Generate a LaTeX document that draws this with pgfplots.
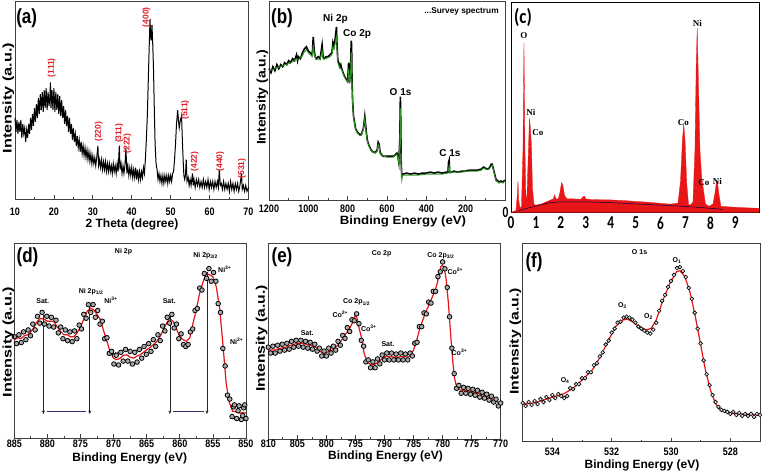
\documentclass[border=0pt]{standalone}
\usepackage{fontspec}
\setmainfont{Liberation Sans}
\newfontfamily\serifT{Liberation Serif}
\newfontfamily\calib{Carlito}
\usepackage{graphicx}
\usepackage{pgfplots}
\pgfplotsset{compat=1.18}
\usetikzlibrary{arrows.meta}
\definecolor{fitred}{RGB}{230,20,20}
\definecolor{xrdred}{RGB}{225,30,40}
\definecolor{sgreen}{RGB}{45,150,35}
\definecolor{edxred}{RGB}{232,22,22}
\definecolor{navyl}{RGB}{50,50,110}
\newcommand\tk[1]{\scalebox{1}[1.2]{#1}}
\newcommand\tc[1]{\scalebox{0.95}[1.3]{#1}}
\newcommand\ylab[1][1.3]{\scalebox{#1}[1]{\fontsize{12.5}{12.5}\selectfont\bfseries Intensity (a.u.)}}
\newcommand\xlab[2][1]{\scalebox{#1}[1]{\fontsize{12}{12}\selectfont\bfseries #2}}
\newcommand\plab[1]{\scalebox{1}[1.2]{\fontsize{17}{17}\selectfont\bfseries #1}}
\newcommand\sm{\fontsize{7}{7}\selectfont\bfseries}
\tikzset{hkl/.style={text=xrdred, rotate=90, font=\fontsize{8.5}{8.5}\selectfont\bfseries}}
\pgfplotsset{
  panel/.style={
    scale only axis, anchor=south west,
    ymin=0, ymax=100, ytick=\empty,
    axis line style={draw=black!75, line width=0.8pt},
    tick align=inside, xtick pos=left,
    major tick length=4pt, minor tick length=2pt,
    tick style={draw=black!75, line width=0.7pt},
    minor x tick num=1,
    xticklabel style={font=\fontsize{9}{9}\selectfont\bfseries},
    clip=false,
  },
  fitline/.style={draw=fitred, line width=1.2pt, no markers},
  pts/.style={only marks, mark=*, mark size=2.3pt, mark options={draw=black, fill=gray!65, line width=0.8pt}},
}
\begin{document}
\begin{tikzpicture}
\useasboundingbox (0pt,0pt) rectangle (763pt,474pt);

% ---------------- (a) XRD
\begin{axis}[panel, at={(15pt,274.7pt)}, width=233.5pt, height=198.3pt,
  xmin=10, xmax=70, xtick={10,20,30,40,50,60,70},
  xticklabels={\tk{10},\tk{20},\tk{30},\tk{40},\tk{50},\tk{60},\tk{70}},
  xticklabel style={yshift=-5pt}]
\addplot[black, line width=1pt] table {
10.00 41
10.25 34
10.50 40
10.75 33
11.00 39
11.25 34
11.50 40
11.75 31
12.00 38
12.25 33
12.50 36
12.75 29
13.00 35
13.25 31
13.50 38
13.75 33
14.00 41
14.25 35
14.50 43
14.75 37
15.00 46
15.25 39
15.50 48
15.75 41
16.00 51
16.25 43
16.50 53
16.75 45
17.00 54
17.25 44
17.50 55
17.75 46
18.00 56
18.25 45
18.50 54
18.75 47
19.00 53
19.10 59
19.25 46
19.50 55
19.75 45
20.00 56
20.25 44
20.50 54
20.75 45
21.00 53
21.25 43
21.50 52
21.75 42
22.00 50
22.25 41
22.50 47
22.75 38
23.00 45
23.25 37
23.50 42
23.75 34
24.00 41
24.25 33
24.50 38
24.75 30
25.00 36
25.25 29
25.50 33
25.75 27
26.00 32
26.25 26
26.50 30
26.75 24
27.00 29
27.25 23
27.50 27
27.75 22
28.00 26
28.25 21
28.50 25
28.75 20
29.00 24
29.25 19
29.50 23
29.75 18
30.00 22
30.25 18
30.50 21
30.75 17
31.00 21
31.30 27
31.50 17
31.75 20
32.00 16
32.25 20
32.50 15
32.75 19
33.00 15
33.25 19
33.50 14
33.75 18
34.00 14
34.25 18
34.50 14
34.75 17
35.00 13
35.25 18
35.50 14
35.75 17
36.00 13
36.25 18
36.50 14
36.80 27
37.00 15
37.25 18
37.50 13
37.75 17
38.00 13
38.25 17
38.50 26
38.75 13
39.00 17
39.25 12
39.50 16
39.75 12
40.00 16
40.25 11
40.50 15
40.75 11
41.00 16
41.25 10
41.50 15
41.75 10
42.00 14
42.25 10
42.50 14
42.75 11
43.00 16
43.25 13
43.50 20
43.75 30
44.00 42
44.25 60
44.50 78
44.70 91
44.85 82
45.00 80
45.20 88
45.40 78
45.60 65
45.80 45
46.00 28
46.25 18
46.50 15
46.75 10
47.00 13
47.25 9
47.50 12
47.75 8
48.00 12
48.25 8
48.50 12
48.75 9
49.00 12
49.25 8
49.50 12
49.75 9
50.00 12
50.25 9
50.50 13
50.75 14
51.00 20
51.25 28
51.50 38
51.80 45
52.00 40
52.20 36
52.50 40
52.80 42
53.00 30
53.20 20
53.40 12
53.60 10
53.80 12
54.00 20
54.20 9
54.50 11
54.75 7
55.00 10
55.25 7
55.60 13
55.80 7
56.00 10
56.30 6
56.60 10
56.90 7
57.20 10
57.50 6
57.80 9
58.10 6
58.40 10
58.70 6
59.00 9
59.30 6
59.60 10
59.90 5
60.20 9
60.50 6
60.80 9
61.10 5
61.40 9
61.70 6
62.00 9
62.25 6
62.50 15
62.75 7
63.00 8
63.30 5
63.60 9
63.90 5
64.20 8
64.50 5
64.80 8
65.10 4
65.40 9
65.70 5
66.00 8
66.30 4
66.60 8
66.90 5
67.20 8
67.50 4
67.80 7
68.20 13
68.40 5
68.70 7
69.00 4
69.30 7
69.60 4
70.00 6
};
\node[hkl] at (axis cs:19.4,66.4) {(111)};
\node[hkl] at (axis cs:31.5,34) {(220)};
\node[hkl] at (axis cs:36.8,33.3) {(311)};
\node[hkl] at (axis cs:38.9,28.2) {(222)};
\node[hkl] at (axis cs:43.8,91.8) {(400)};
\node[hkl] at (axis cs:53.7,45) {(511)};
\node[hkl] at (axis cs:56.2,19) {(422)};
\node[hkl] at (axis cs:62.7,19) {(440)};
\node[hkl] at (axis cs:68.3,15.6) {(531)};
\end{axis}

% ---------------- (b) XPS survey
\begin{axis}[panel, at={(269pt,274pt)}, width=236pt, height=199pt,
  xmin=0, xmax=1200, x dir=reverse, xtick={0,200,400,600,800,1000,1200},
  xticklabels={{},\tk{200},\tk{400},\tk{600},\tk{800},\tk{1000},\tk{1200}},
  xticklabel style={yshift=-1pt}]
\addplot[black, line width=1.6pt] table {
1200 66
1190 64
1180 67
1170 65
1160 68
1150 66
1140 68
1130 67
1120 69
1110 68
1100 70
1090 69
1080 71
1070 70
1060 73
1055 70
1050 72
1040 71
1030 74
1020 76
1010 77
1000 75
990 74
980 73
975 82
970 75
965 72
960 71
950 72
940 71
930 78
925 72
920 71
910 72
900 72
890 73
880 74
875 79
870 77
865 80
860 84
857 87
855 80
850 70
845 69
840 67
835 68
830 66
820 63
810 61
800 60
795 69
792 62
790 59
785 66
782 80
780 78
778 62
775 50
770 42
765 39
760 36
750 34
740 33
730 33
720 36
713 42
710 39
705 34
700 30
690 27
680 25
670 24
660 24
650 25
645 29
640 28
635 24
630 23
620 22
610 22
600 22
590 22
580 22
570 22
560 22.5
550 23.5
545 22
540 19
535 30
532 52
530 40
528 20
525 12
520 13
500 13.5
480 13
460 13.5
440 13
420 13.5
400 13.5
380 14
360 13.5
340 14
320 13.5
300 14
290 14
287 19
284 20
281 14
270 14
260 14.5
240 14
220 14.5
200 14.5
180 15
160 15
140 15
120 15.5
110 16.5
100 16
90 15.5
80 16
70 18
65 18
60 16
50 12
45 10
40 10
30 9
20 9.5
10 9
0 10
};
\addplot[sgreen, line width=0.9pt] table {
1200 65
1180 65.5
1160 66.5
1140 67
1120 68
1100 68.5
1080 69.5
1060 71
1050 70.5
1030 72.5
1020 74.5
1010 75.5
1000 74
980 72
975 78
970 73.5
960 70.5
940 70.5
930 75
925 71
910 71
890 72
880 73
875 77
870 76
865 78
860 81
857 82
855 78
850 69
840 66.5
830 65.5
820 62.5
810 60.5
800 59
795 66
792 61
790 58.5
785 64
782 74
780 74
778 60
775 49
770 41.5
765 38.5
760 35.5
750 33.5
740 32.5
730 32.5
720 35.5
713 41
710 38
705 33.5
700 29.5
690 26.5
680 24.5
660 23.5
650 24.5
645 28
640 27
635 23.5
630 22.5
600 21.5
570 21.5
550 23
545 21.5
540 18.5
535 28
532 46
530 36
528 18
525 10
520 12.5
480 12.5
440 12.5
400 13
360 13
320 13
290 13.5
287 16
284 17
281 13.5
260 14
220 14
180 14.5
140 14.5
120 15
110 16
100 15.5
80 15.5
70 17
65 17.5
60 15.5
50 11.5
45 9.5
30 8.5
20 9
10 8.5
0 9.5
};
\node[font=\fontsize{10}{10}\selectfont\bfseries] at (axis cs:862,91) {Ni 2p};
\node[font=\fontsize{10}{10}\selectfont\bfseries] at (axis cs:752,83.2) {Co 2p};
\node[font=\fontsize{10}{10}\selectfont\bfseries] at (axis cs:531,54) {O 1s};
\node[font=\fontsize{10}{10}\selectfont\bfseries] at (axis cs:280,23.4) {C 1s};
\node[font=\fontsize{8.3}{8.3}\selectfont\bfseries] at (axis cs:221,94.5) {...Survey spectrum};
\end{axis}

% ---------------- (c) EDX
\begin{axis}[panel, at={(511pt,261.5pt)}, width=248pt, height=209.8pt,
  axis line style={draw=black, line width=0.9pt},
  xmin=0, xmax=9.95, xtick={0,1,2,3,4,5,6,7,8,9}, minor x tick num=0,
  xticklabels={\tc{0},\tc{1},\tc{2},\tc{3},\tc{4},\tc{5},\tc{6},\tc{7},\tc{8},\tc{9}},
  xticklabel style={font=\fontsize{14}{14}\selectfont\calib\bfseries, yshift=-1pt},
  ytick={0}, yticklabels={\tc{0}}, ytick style={draw=none},
  yticklabel style={font=\fontsize{12}{12}\selectfont\calib\bfseries, xshift=1pt}]
\addplot[fill=edxred, draw=edxred, line width=0.3pt] table {
0.00 0
0.10 0.5
0.20 1
0.25 8
0.28 15
0.31 6
0.36 2
0.42 3
0.48 30
0.52 81
0.56 30
0.60 6
0.64 8
0.70 30
0.74 45
0.78 40
0.82 32
0.86 12
0.92 4
1.00 3.5
1.20 4
1.40 5
1.60 6
1.70 6.5
1.75 8.5
1.80 6.5
1.90 6.5
1.97 10
2.03 14.3
2.08 13
2.15 8
2.25 6.5
2.50 6.5
2.80 6.3
2.90 7.5
2.95 7.8
3.00 6.5
3.20 6.2
3.50 6.1
4.00 6
4.50 5.7
5.00 5.3
5.50 4.9
6.00 4.4
6.40 4
6.70 4.5
6.80 15
6.88 35
6.93 42
6.98 35
7.05 14
7.12 4
7.20 3.5
7.30 5
7.38 30
7.43 70
7.47 88
7.52 62
7.58 30
7.65 17
7.72 11
7.80 4
7.95 3
8.10 4
8.18 9
8.24 14.5
8.28 14.8
8.34 9
8.42 3
8.60 2.8
9.00 2.5
9.50 2.2
9.95 2
} \closedcycle;
\addplot[black!70!blue, line width=0.5pt] coordinates {(0.3,0.8) (0.5,1.5) (0.8,2.5) (1.1,3.3) (1.5,4.6) (2.0,5.1) (3.0,5.1) (4.0,4.7) (5.0,4.1) (6.0,3.5) (7.0,2.9) (8.0,2.0) (8.5,1.5)};
\node[font=\fontsize{9}{9}\selectfont\serifT\bfseries] at (axis cs:0.52,84.4) {O};
\node[font=\fontsize{9}{9}\selectfont\serifT\bfseries] at (axis cs:0.8,47.7) {Ni};
\node[font=\fontsize{9}{9}\selectfont\serifT\bfseries] at (axis cs:1.08,37.9) {Co};
\node[font=\fontsize{9}{9}\selectfont\serifT\bfseries] at (axis cs:6.92,43.1) {Co};
\node[font=\fontsize{9}{9}\selectfont\serifT\bfseries] at (axis cs:7.48,90) {Ni};
\node[font=\fontsize{9}{9}\selectfont\serifT\bfseries] at (axis cs:7.74,14.3) {Co};
\node[font=\fontsize{9}{9}\selectfont\serifT\bfseries] at (axis cs:8.28,14.8) {Ni};
\end{axis}

% ---------------- (d) Ni 2p
\begin{axis}[panel, at={(14.3pt,36pt)}, width=231.7pt, height=194.7pt,
  xmin=850, xmax=885, x dir=reverse, xtick={850,855,860,865,870,875,880,885},
  xticklabels={\tk{850},\tk{855},\tk{860},\tk{865},\tk{870},\tk{875},\tk{880},\tk{885}},
  xticklabel style={yshift=1.5pt}]
\addplot[pts] table {
885.00 52
884.65 48.5
884.30 53
883.95 49
883.60 54.5
883.25 50.5
882.90 55.5
882.55 52.5
882.20 58.5
881.85 55.5
881.50 62.5
881.15 59
880.80 64.5
880.45 58.5
880.10 62.5
879.75 57.5
879.40 62
879.05 57
878.70 60.5
878.35 54
878.00 57
877.65 51
877.30 55.5
876.95 50
876.60 54.5
876.25 49.5
875.90 55
875.55 51
875.20 58
874.85 56
874.50 63.5
874.15 61.5
873.80 68.5
873.45 64.5
873.10 68.5
872.75 62
872.40 65.5
872.05 58.5
871.70 60
871.35 51
871.00 51.5
870.65 43.5
870.30 44.5
869.95 38
869.60 42.5
869.25 37.5
868.90 44
868.55 39.5
868.20 45.5
867.85 39.5
867.50 44.5
867.15 38
866.80 44
866.45 39
866.10 45.5
865.75 41
865.40 47
865.05 43
864.70 48.5
864.35 44.5
864.00 50.5
863.65 47
863.30 53
862.95 50
862.60 57.5
862.25 55
861.90 62
861.55 59
861.20 63.5
860.85 56.5
860.50 58.5
860.15 51
859.80 53.5
859.45 48
859.10 47
858.75 48
858.40 54.5
858.05 56
857.70 65.5
857.35 66.5
857.00 77
856.65 76
856.30 84.5
855.95 82
855.60 87
855.25 80.5
854.90 85
854.55 80.5
854.20 69
853.85 64.5
853.50 46
853.15 37
852.80 22
852.45 20
852.10 11
851.90 16
851.75 17
851.40 10
851.20 14
851.05 16.5
850.70 9.5
850.50 11.5
850.35 15.5
850.20 17
850.00 10
};
\addplot[fitline] table {
885.0 50.4
884.5 51.5
884.0 51
883.5 52.5
883.0 53
882.5 54.5
882.0 57
881.5 60
881.0 61.5
880.5 61
880.0 60
879.5 60
879.0 59.8
878.5 57
878.0 54.7
877.5 53
877.0 53
876.5 52
876.0 52
875.5 54
875.0 57
874.5 61
874.0 65
873.5 66.7
873.0 65.8
872.5 63.5
872.0 60.7
871.5 55
871.0 49.6
870.5 44
870.0 41
869.5 40.2
869.0 41
868.5 42.5
868.0 42.7
867.5 41.5
867.0 41
866.5 42
866.0 42.7
865.5 44
865.0 45.3
864.5 46.5
864.0 47.9
863.5 49.5
863.0 52
862.5 55.5
862.0 59
861.5 61.5
861.0 59.8
860.5 56
860.0 52
859.5 50.5
859.0 49.6
858.5 51.3
858.0 59
857.5 66
857.0 74.4
856.5 80
856.0 84.6
855.5 83.8
855.0 82.9
854.5 77.8
854.0 67.5
853.5 48.7
853.0 28.2
852.5 18
852.0 13.7
851.5 13.5
851.0 12.8
850.5 13
850.0 12.8
};
\draw[black!85, line width=0.7pt, -{Stealth[length=3.5pt,width=3pt]}] (axis cs:880.6,63.2) -- (axis cs:880.6,12.3);
\draw[black!85, line width=0.7pt, -{Stealth[length=3.5pt,width=3pt]}] (axis cs:873.6,68) -- (axis cs:873.6,12.3);
\draw[black!85, line width=0.7pt, -{Stealth[length=3.5pt,width=3pt]}] (axis cs:861.5,64) -- (axis cs:861.5,12.3);
\draw[black!85, line width=0.7pt, -{Stealth[length=3.5pt,width=3pt]}] (axis cs:855.9,85.5) -- (axis cs:855.9,12.3);
\draw[navyl, line width=0.8pt] (axis cs:880.1,13.8) -- (axis cs:874.1,13.8);
\draw[navyl, line width=0.8pt] (axis cs:861.1,13.8) -- (axis cs:856.3,13.8);
\node[font=\sm] at (axis cs:868.5,95.5) {Ni 2p};
\node[font=\sm] at (axis cs:880.7,70.2) {Sat.};
\node[font=\sm] at (axis cs:873.4,75.3) {Ni 2p\textsubscript{1/2}};
\node[font=\sm] at (axis cs:870.4,70.6) {Ni\textsuperscript{3+}};
\node[font=\sm] at (axis cs:869.3,43.2) {Ni\textsuperscript{2+}};
\node[font=\sm] at (axis cs:861.6,70.2) {Sat.};
\node[font=\sm] at (axis cs:856.1,93.7) {Ni 2p\textsubscript{3/2}};
\node[font=\sm] at (axis cs:853.2,86.6) {Ni\textsuperscript{3+}};
\node[font=\sm] at (axis cs:851.4,49.9) {Ni\textsuperscript{2+}};
\end{axis}

% ---------------- (e) Co 2p
\begin{axis}[panel, at={(268.3pt,34.7pt)}, width=232.4pt, height=196pt,
  xmin=770, xmax=810, x dir=reverse, xtick={770,775,780,785,790,795,800,805,810},
  xticklabels={\tk{770},\tk{775},\tk{780},\tk{785},\tk{790},\tk{795},\tk{800},\tk{805},\tk{810}},
  xticklabel style={yshift=2.5pt}]
\addplot[pts] table {
810.0 47
809.6 44
809.2 47.5
808.8 44
808.4 48
808.0 45
807.6 48.5
807.2 45.5
806.8 49
806.4 46
806.0 50
805.6 47
805.2 50.5
804.8 47.5
804.4 50.5
804.0 47
803.6 50
803.2 46.5
802.8 49.5
802.4 46
802.0 48.5
801.6 45
801.2 46.5
800.8 42.5
800.4 45
800.0 42.5
799.6 46.5
799.2 44
798.8 47.5
798.4 45.5
798.0 50
797.6 48
797.2 53
796.8 51.5
796.4 57
796.0 55
795.6 61
795.2 60.5
794.8 64
794.4 59
794.0 50.5
793.6 47.5
793.2 39.5
792.8 40.5
792.4 36.5
792.0 39.5
791.6 36.5
791.2 41
790.8 38.5
790.4 43
790.0 40.5
789.6 44
789.2 40.5
788.8 44
788.4 40.5
788.0 43.5
787.6 40.5
787.2 44
786.8 40.5
786.4 43.5
786.0 40.5
785.6 44
785.2 42.5
784.8 49
784.4 49.5
784.0 57.5
783.6 57.5
783.2 64.5
782.8 64
782.4 70
782.0 69.5
781.6 75.5
781.2 75.5
780.8 83
780.4 85.5
780.0 90.5
779.6 87
779.2 77.5
778.8 62.5
778.4 46.5
778.0 33.5
777.6 26
777.2 27.5
776.8 23.5
776.4 26.5
776.0 23.5
775.6 26
775.2 23
774.8 25.5
774.4 22.5
774.0 25
773.6 21.5
773.2 24
772.8 21
772.4 23
772.0 20
771.6 22
771.2 19
770.8 20.5
770.4 17
770.0 18.5
};
\addplot[fitline] table {
810 45.6
809 45.5
808 46.4
807 47
806 48.1
805 49
804 48.8
803 48.1
802 47.3
801 44.7
800.5 44
800 44.2
799.5 45
799 45.6
798.5 46.8
798 48.1
797.5 50
797 52.4
796.5 54.5
796 56.6
795.5 59.5
795.2 62
795 63.4
794.7 61.5
794.4 57
794 52.4
793.5 43.9
793 39.6
792.5 38.3
792 37.9
791.5 38.5
791 39.6
790.5 41
790 42.2
789 42.2
788 41.8
787 42.2
786 42
785.5 42.5
785 45.6
784.5 50
784 55.8
783.5 60
783 64.3
782.5 67.5
782 71
781.5 74.5
781 78.7
780.6 84
780.3 88.1
780 88.9
779.7 87
779.4 82
779 69.4
778.7 57
778.4 45
778 32
777.7 28
777.4 26.5
777 25.2
776 24.8
775 24.3
774 23.5
773 22.6
772 21.3
771 20
770 17.5
};
\node[font=\sm] at (axis cs:790.5,94.5) {Co 2p};
\node[font=\sm] at (axis cs:780.3,93.5) {Co 2p\textsubscript{3/2}};
\node[font=\sm] at (axis cs:777.8,85.9) {Co\textsuperscript{2+}};
\node[font=\sm] at (axis cs:794.8,70) {Co 2p\textsubscript{1/2}};
\node[font=\sm] at (axis cs:797.6,64) {Co\textsuperscript{2+}};
\node[font=\sm] at (axis cs:792.7,56.5) {Co\textsuperscript{3+}};
\node[font=\sm] at (axis cs:803.3,54.2) {Sat.};
\node[font=\sm] at (axis cs:789.4,48.4) {Sat.};
\node[font=\sm] at (axis cs:777.1,44.3) {Co\textsuperscript{3+}};
\end{axis}

% ---------------- (f) O 1s
\begin{axis}[panel, at={(522.7pt,32.3pt)}, width=237.3pt, height=198.4pt,
  xmin=527, xmax=535, x dir=reverse, xtick={528,530,532,534},
  xticklabels={\tk{528},\tk{530},\tk{532},\tk{534}},
  xticklabel style={yshift=-2.5pt}]
\addplot[pts, mark size=1.9pt, mark options={fill=gray!25, line width=0.6pt}] table {
535.0 19.5
534.9 18
534.8 20
534.7 18.5
534.6 20.5
534.5 19
534.4 21.5
534.3 20
534.2 22.5
534.1 21
534.0 23.5
533.9 22
533.8 24
533.7 23
533.6 22
533.5 23
533.4 27
533.3 26.5
533.2 29
533.1 29
533.0 32
532.9 32
532.8 35
532.7 35
532.6 38.5
532.5 39.5
532.4 43
532.3 45
532.2 49
532.1 51
532.0 55
531.9 57
531.8 60
531.7 60.5
531.6 62.5
531.5 63
531.4 62.5
531.3 61.5
531.2 60
531.1 58
531.0 57
530.9 56
530.8 55
530.7 54.5
530.6 56.5
530.5 60
530.4 66
530.3 71
530.2 74
530.1 78
530.0 81
529.9 84
529.8 87.5
529.7 88
529.6 86
529.5 83
529.4 77.5
529.3 72
529.2 65
529.1 57
529.0 49.5
528.9 41
528.8 34
528.7 28.5
528.6 23.5
528.5 20
528.4 17.5
528.3 16
528.2 15.5
528.1 15
528.0 14
527.9 15
527.8 13.5
527.7 14.5
527.6 13
527.5 14
527.4 13
527.3 14
527.2 12.5
527.1 14
527.0 13.5
};
\addplot[fitline] table {
535.0 19
534.7 19.3
534.4 20.5
534.15 21.8
533.9 22.8
533.58 24.4
533.3 27
533.0 31
532.66 36
532.38 42.9
532.1 51.3
531.87 58
531.64 61.3
531.47 61.7
531.3 60.5
531.07 58
530.84 56.3
530.67 57.1
530.5 61.3
530.27 71.4
530.04 79.8
529.81 85.7
529.7 86.2
529.53 83.2
529.35 74.8
529.18 63
529.01 49.6
528.84 36.1
528.67 26
528.5 19.3
528.33 16
528.1 14.6
527.64 14
527.0 13.4
};
\node[font=\sm] at (axis cs:531.06,95.5) {O 1s};
\node[font=\sm] at (axis cs:529.8,91.1) {O\textsubscript{1}};
\node[font=\sm] at (axis cs:531.64,68.4) {O\textsubscript{3}};
\node[font=\sm] at (axis cs:530.76,62.9) {O\textsubscript{2}};
\node[font=\sm] at (axis cs:533.57,30.7) {O\textsubscript{4}};
\end{axis}

% ---------------- panel letters, axis titles
\node at (26.7pt,456pt) {\plab{(a)}};
\node at (282pt,456pt) {\plab{(b)}};
\node at (523pt,456.5pt) {\scalebox{1}[1.2]{\fontsize{17}{17}\selectfont\calib\bfseries (c)}};
\node at (27.5pt,217pt) {\plab{(d)}};
\node at (282pt,217pt) {\plab{(e)}};
\node at (534pt,211.5pt) {\plab{(f)}};

\node[rotate=90] at (8.3pt,376pt) {\ylab};
\node[rotate=90] at (262.5pt,376.5pt) {\ylab[1.12]};
\node[rotate=90] at (8.3pt,132pt) {\ylab};
\node[rotate=90] at (261.7pt,135.5pt) {\ylab[1.26]};
\node[rotate=90] at (515.3pt,132.5pt) {\ylab[1.26]};

\node at (132pt,250pt) {\xlab{2 Theta (degree)}};
\node at (403pt,252.5pt) {\xlab[1.1]{Binding Energy (eV)}};
\node at (129.7pt,16pt) {\xlab{Binding Energy (eV)}};
\node at (385.5pt,17.5pt) {\xlab{Binding Energy (eV)}};
\node at (642pt,9pt) {\xlab{Binding Energy (eV)}};
\end{tikzpicture}
\end{document}
